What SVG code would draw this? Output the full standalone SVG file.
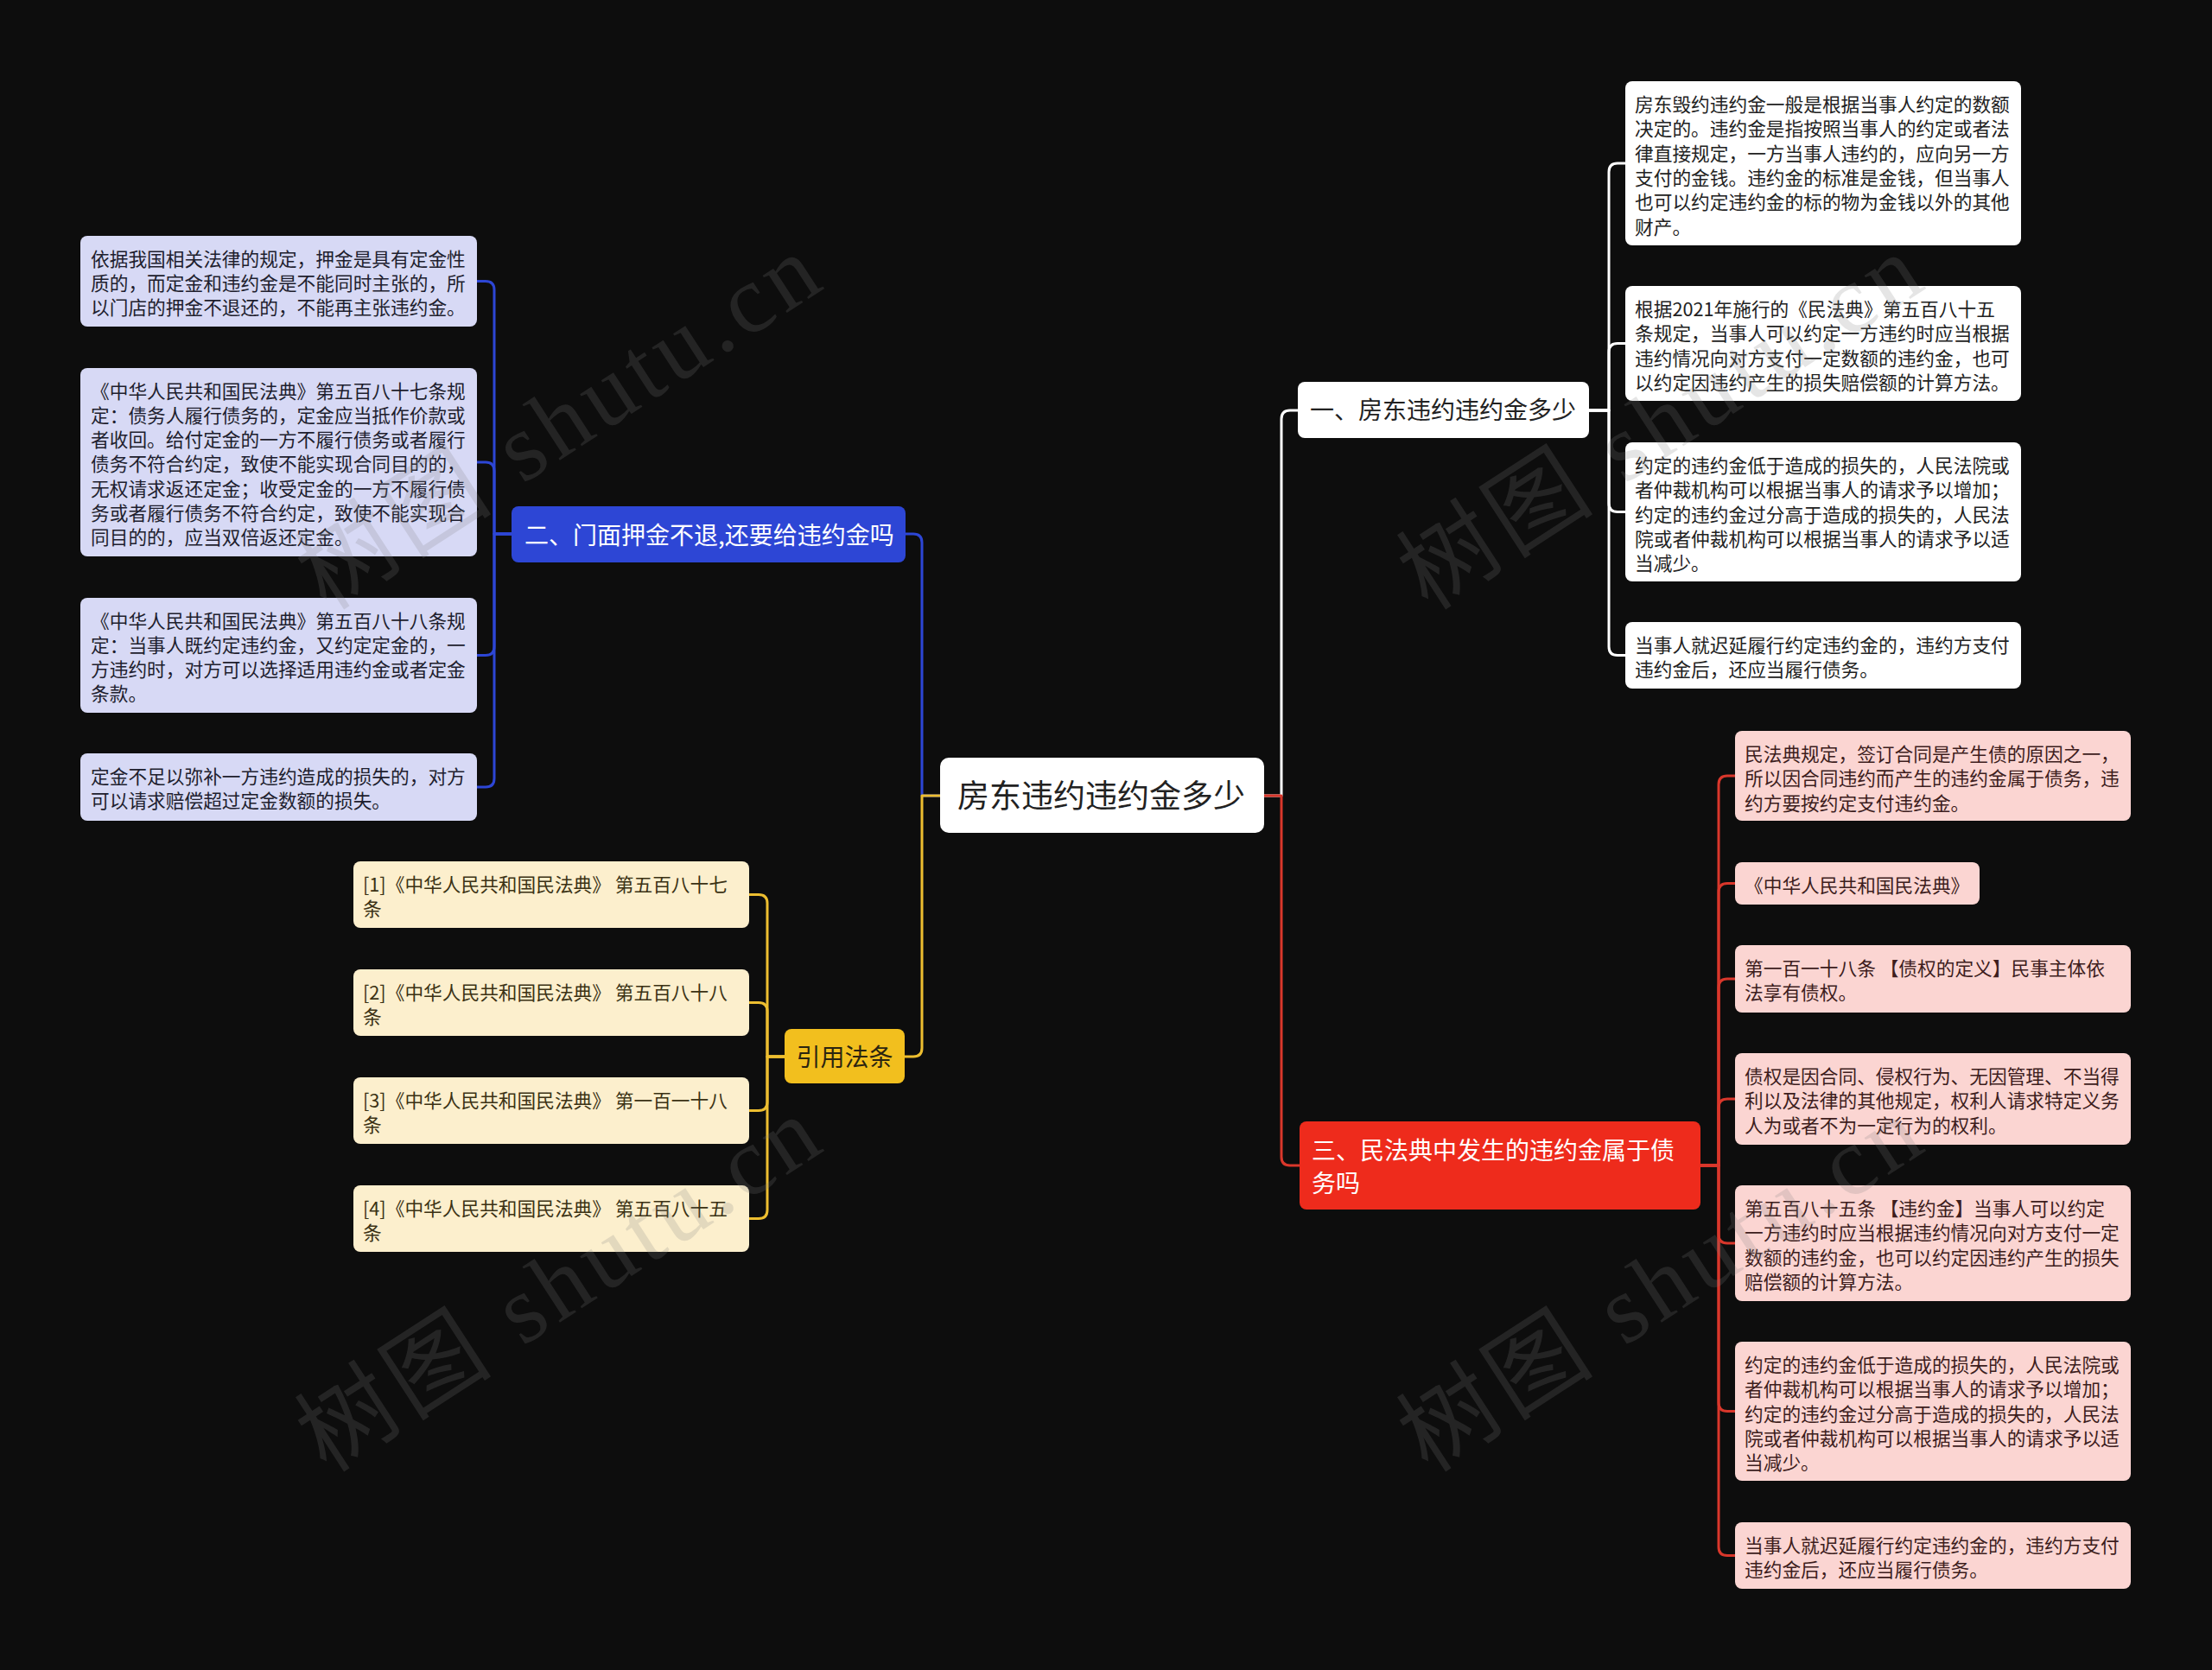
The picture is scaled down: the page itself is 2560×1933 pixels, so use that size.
<svg xmlns="http://www.w3.org/2000/svg" width="2560" height="1933" viewBox="0 0 2560 1933">
<style>
.t{font-family:"Noto Sans CJK SC","Noto Sans",sans-serif;}
.s{font-size:21.7px;}
.m{font-size:28px;}
.ln{fill:none;stroke-width:3;stroke-linecap:round;stroke-linejoin:round;}
.lb{stroke:#2D46D5;}
.ly{stroke:#EDBE30;}
.lw{stroke:#FFFFFF;}
.lr{stroke:#D9372B;}
.cb{fill:#D7D9F5;}
.cy{fill:#FCEFCD;}
.cw{fill:#FFFFFF;}
.cr{fill:#FBD5D2;}
.tb{fill:#1E1E2E;}
.ty{fill:#3B3214;}
.tw{fill:#222222;}
.tr{fill:#3D1D1D;}
.wm{font-family:"Liberation Serif","Noto Sans CJK SC",serif;font-size:112px;letter-spacing:6px;fill:#808080;opacity:0.2;}
</style>
<rect x="0" y="0" width="2560" height="1933" fill="#0D0D0D"/>

<g id="connectors">
  <path class="ln lb" d="M1088,921 H1067 V628 Q1067,618 1057,618 H1048"/>
  <path class="ln ly" d="M1088,921 H1067 V1213 Q1067,1223 1057,1223 H1047"/>
  <path class="ln lw" d="M1463,921 H1483 V485 Q1483,475 1493,475 H1502"/>
  <path class="ln lr" d="M1463,921 H1483 V1339 Q1483,1349 1493,1349 H1504"/>

  <path class="ln lb" d="M592,618 H572 V335.5 Q572,325.5 562,325.5 H552"/>
  <path class="ln lb" d="M592,618 H572 V545 Q572,535 562,535 H552"/>
  <path class="ln lb" d="M592,618 H572 V748.5 Q572,758.5 562,758.5 H552"/>
  <path class="ln lb" d="M592,618 H572 V901 Q572,911 562,911 H552"/>

  <path class="ln ly" d="M908,1223 H888 V1045.5 Q888,1035.5 878,1035.5 H867"/>
  <path class="ln ly" d="M908,1223 H888 V1170.5 Q888,1160.5 878,1160.5 H867"/>
  <path class="ln ly" d="M908,1223 H888 V1275.5 Q888,1285.5 878,1285.5 H867"/>
  <path class="ln ly" d="M908,1223 H888 V1400.5 Q888,1410.5 878,1410.5 H867"/>

  <path class="ln lw" d="M1839,475 H1862 V199 Q1862,189 1872,189 H1881"/>
  <path class="ln lw" d="M1839,475 H1862 V407.5 Q1862,397.5 1872,397.5 H1881"/>
  <path class="ln lw" d="M1839,475 H1862 V582.5 Q1862,592.5 1872,592.5 H1881"/>
  <path class="ln lw" d="M1839,475 H1862 V748.5 Q1862,758.5 1872,758.5 H1881"/>

  <path class="ln lr" d="M1968,1349 H1989 V908 Q1989,898 1999,898 H2008"/>
  <path class="ln lr" d="M1968,1349 H1989 V1032.5 Q1989,1022.5 1999,1022.5 H2008"/>
  <path class="ln lr" d="M1968,1349 H1989 V1143 Q1989,1133 1999,1133 H2008"/>
  <path class="ln lr" d="M1968,1349 H1989 V1282 Q1989,1272 1999,1272 H2008"/>
  <path class="ln lr" d="M1968,1349 H1989 V1429 Q1989,1439 1999,1439 H2008"/>
  <path class="ln lr" d="M1968,1349 H1989 V1623.5 Q1989,1633.5 1999,1633.5 H2008"/>
  <path class="ln lr" d="M1968,1349 H1989 V1790.5 Q1989,1800.5 1999,1800.5 H2008"/>
</g>

<g id="root">
  <rect x="1088" y="877" width="375" height="87" rx="10" fill="#FFFFFF"/>
  <text class="t" x="1108" y="935" font-size="37" fill="#222222">房东违约违约金多少</text>
</g>

<g id="branch2">
  <rect x="592" y="586" width="456" height="65" rx="8" fill="#2D46D5"/>
  <text class="t m" x="607" y="630" fill="#FFFFFF">二、门面押金不退,还要给违约金吗</text>
</g>
<g id="b2c1">
  <rect class="cb" x="93" y="273" width="459" height="105" rx="8"/>
  <text class="t s tb"><tspan x="105" y="307.5">依据我国相关法律的规定，押金是具有定金性</tspan><tspan x="105" y="335.8">质的，而定金和违约金是不能同时主张的，所</tspan><tspan x="105" y="364.1">以门店的押金不退还的，不能再主张违约金。</tspan></text>
</g>
<g id="b2c2">
  <rect class="cb" x="93" y="426" width="459" height="218" rx="8"/>
  <text class="t s tb"><tspan x="105" y="460.5">《中华人民共和国民法典》第五百八十七条规</tspan><tspan x="105" y="488.8">定：债务人履行债务的，定金应当抵作价款或</tspan><tspan x="105" y="517.1">者收回。给付定金的一方不履行债务或者履行</tspan><tspan x="105" y="545.4">债务不符合约定，致使不能实现合同目的的，</tspan><tspan x="105" y="573.7">无权请求返还定金；收受定金的一方不履行债</tspan><tspan x="105" y="602">务或者履行债务不符合约定，致使不能实现合</tspan><tspan x="105" y="630.3">同目的的，应当双倍返还定金。</tspan></text>
</g>
<g id="b2c3">
  <rect class="cb" x="93" y="692" width="459" height="133" rx="8"/>
  <text class="t s tb"><tspan x="105" y="726.5">《中华人民共和国民法典》第五百八十八条规</tspan><tspan x="105" y="754.8">定：当事人既约定违约金，又约定定金的，一</tspan><tspan x="105" y="783.1">方违约时，对方可以选择适用违约金或者定金</tspan><tspan x="105" y="811.4">条款。</tspan></text>
</g>
<g id="b2c4">
  <rect class="cb" x="93" y="872" width="459" height="78" rx="8"/>
  <text class="t s tb"><tspan x="105" y="906.5">定金不足以弥补一方违约造成的损失的，对方</tspan><tspan x="105" y="934.8">可以请求赔偿超过定金数额的损失。</tspan></text>
</g>

<g id="branchRef">
  <rect x="908" y="1191" width="139" height="63" rx="8" fill="#F2BF1E"/>
  <text class="t m" x="977.5" y="1234" text-anchor="middle" fill="#2B2410">引用法条</text>
</g>
<g id="ref1">
  <rect class="cy" x="409" y="997" width="458" height="77" rx="8"/>
  <text class="t s ty"><tspan x="420" y="1031.5">[1]《中华人民共和国民法典》 第五百八十七</tspan><tspan x="420" y="1059.8">条</tspan></text>
</g>
<g id="ref2">
  <rect class="cy" x="409" y="1122" width="458" height="77" rx="8"/>
  <text class="t s ty"><tspan x="420" y="1156.5">[2]《中华人民共和国民法典》 第五百八十八</tspan><tspan x="420" y="1184.8">条</tspan></text>
</g>
<g id="ref3">
  <rect class="cy" x="409" y="1247" width="458" height="77" rx="8"/>
  <text class="t s ty"><tspan x="420" y="1281.5">[3]《中华人民共和国民法典》 第一百一十八</tspan><tspan x="420" y="1309.8">条</tspan></text>
</g>
<g id="ref4">
  <rect class="cy" x="409" y="1372" width="458" height="77" rx="8"/>
  <text class="t s ty"><tspan x="420" y="1406.5">[4]《中华人民共和国民法典》 第五百八十五</tspan><tspan x="420" y="1434.8">条</tspan></text>
</g>

<g id="branch1">
  <rect x="1502" y="442" width="337" height="65" rx="8" fill="#FFFFFF"/>
  <text class="t m" x="1516" y="485" fill="#222222">一、房东违约违约金多少</text>
</g>
<g id="b1c1">
  <rect class="cw" x="1881" y="94" width="458" height="190" rx="8"/>
  <text class="t s tw"><tspan x="1892" y="129">房东毁约违约金一般是根据当事人约定的数额</tspan><tspan x="1892" y="157.3">决定的。违约金是指按照当事人的约定或者法</tspan><tspan x="1892" y="185.6">律直接规定，一方当事人违约的，应向另一方</tspan><tspan x="1892" y="213.9">支付的金钱。违约金的标准是金钱，但当事人</tspan><tspan x="1892" y="242.2">也可以约定违约金的标的物为金钱以外的其他</tspan><tspan x="1892" y="270.5">财产。</tspan></text>
</g>
<g id="b1c2">
  <rect class="cw" x="1881" y="331" width="458" height="133" rx="8"/>
  <text class="t s tw"><tspan x="1892" y="366">根据2021年施行的《民法典》第五百八十五</tspan><tspan x="1892" y="394.3">条规定，当事人可以约定一方违约时应当根据</tspan><tspan x="1892" y="422.6">违约情况向对方支付一定数额的违约金，也可</tspan><tspan x="1892" y="450.9">以约定因违约产生的损失赔偿额的计算方法。</tspan></text>
</g>
<g id="b1c3">
  <rect class="cw" x="1881" y="512" width="458" height="161" rx="8"/>
  <text class="t s tw"><tspan x="1892" y="547">约定的违约金低于造成的损失的，人民法院或</tspan><tspan x="1892" y="575.3">者仲裁机构可以根据当事人的请求予以增加；</tspan><tspan x="1892" y="603.6">约定的违约金过分高于造成的损失的，人民法</tspan><tspan x="1892" y="631.9">院或者仲裁机构可以根据当事人的请求予以适</tspan><tspan x="1892" y="660.2">当减少。</tspan></text>
</g>
<g id="b1c4">
  <rect class="cw" x="1881" y="720" width="458" height="77" rx="8"/>
  <text class="t s tw"><tspan x="1892" y="755">当事人就迟延履行约定违约金的，违约方支付</tspan><tspan x="1892" y="783.3">违约金后，还应当履行债务。</tspan></text>
</g>

<g id="branch3">
  <rect x="1504" y="1298" width="464" height="102" rx="8" fill="#EE2B1C"/>
  <text class="t m" fill="#FFFFFF"><tspan x="1518" y="1342">三、民法典中发生的违约金属于债</tspan><tspan x="1518" y="1380">务吗</tspan></text>
</g>
<g id="b3c1">
  <rect class="cr" x="2008" y="846" width="458" height="104" rx="8"/>
  <text class="t s tr"><tspan x="2019" y="881">民法典规定，签订合同是产生债的原因之一，</tspan><tspan x="2019" y="909.3">所以因合同违约而产生的违约金属于债务，违</tspan><tspan x="2019" y="937.6">约方要按约定支付违约金。</tspan></text>
</g>
<g id="b3c2">
  <rect class="cr" x="2008" y="998" width="283" height="49" rx="8"/>
  <text class="t s tr"><tspan x="2019" y="1033">《中华人民共和国民法典》</tspan></text>
</g>
<g id="b3c3">
  <rect class="cr" x="2008" y="1094" width="458" height="78" rx="8"/>
  <text class="t s tr"><tspan x="2019" y="1129">第一百一十八条 【债权的定义】民事主体依</tspan><tspan x="2019" y="1157.3">法享有债权。</tspan></text>
</g>
<g id="b3c4">
  <rect class="cr" x="2008" y="1219" width="458" height="106" rx="8"/>
  <text class="t s tr"><tspan x="2019" y="1254">债权是因合同、侵权行为、无因管理、不当得</tspan><tspan x="2019" y="1282.3">利以及法律的其他规定，权利人请求特定义务</tspan><tspan x="2019" y="1310.6">人为或者不为一定行为的权利。</tspan></text>
</g>
<g id="b3c5">
  <rect class="cr" x="2008" y="1372" width="458" height="134" rx="8"/>
  <text class="t s tr"><tspan x="2019" y="1407">第五百八十五条 【违约金】当事人可以约定</tspan><tspan x="2019" y="1435.3">一方违约时应当根据违约情况向对方支付一定</tspan><tspan x="2019" y="1463.6">数额的违约金，也可以约定因违约产生的损失</tspan><tspan x="2019" y="1491.9">赔偿额的计算方法。</tspan></text>
</g>
<g id="b3c6">
  <rect class="cr" x="2008" y="1553" width="458" height="161" rx="8"/>
  <text class="t s tr"><tspan x="2019" y="1588">约定的违约金低于造成的损失的，人民法院或</tspan><tspan x="2019" y="1616.3">者仲裁机构可以根据当事人的请求予以增加；</tspan><tspan x="2019" y="1644.6">约定的违约金过分高于造成的损失的，人民法</tspan><tspan x="2019" y="1672.9">院或者仲裁机构可以根据当事人的请求予以适</tspan><tspan x="2019" y="1701.2">当减少。</tspan></text>
</g>
<g id="b3c7">
  <rect class="cr" x="2008" y="1762" width="458" height="77" rx="8"/>
  <text class="t s tr"><tspan x="2019" y="1797">当事人就迟延履行约定违约金的，违约方支付</tspan><tspan x="2019" y="1825.3">违约金后，还应当履行债务。</tspan></text>
</g>

<g id="watermarks">
  <text class="wm" transform="translate(378,708) rotate(-33)">树图 shutu.cn</text>
  <text class="wm" transform="translate(1653,708) rotate(-33)">树图 shutu.cn</text>
  <text class="wm" transform="translate(378,1706) rotate(-33)">树图 shutu.cn</text>
  <text class="wm" transform="translate(1653,1706) rotate(-33)">树图 shutu.cn</text>
</g>
</svg>
